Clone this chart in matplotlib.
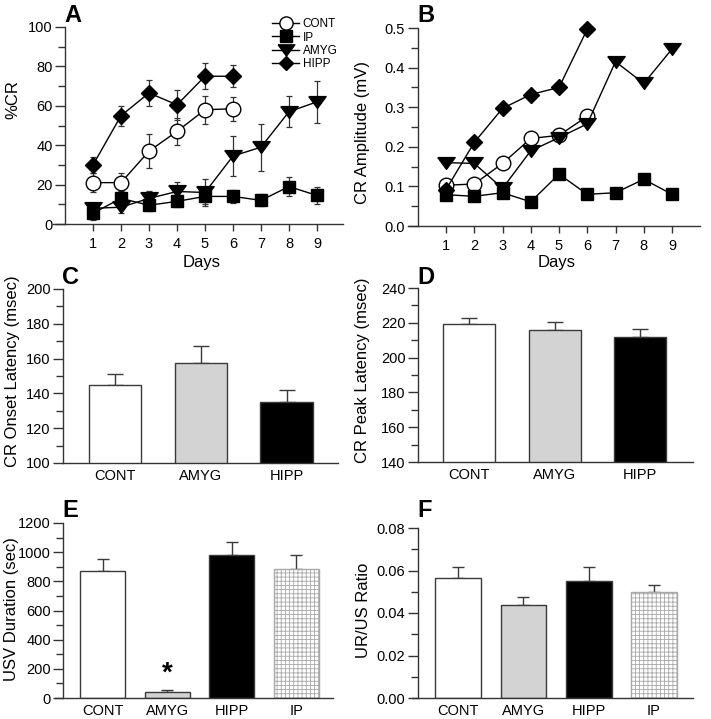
import numpy as np
import matplotlib
matplotlib.use("Agg")
import matplotlib.pyplot as plt
from matplotlib.ticker import MultipleLocator, FormatStrFormatter

plt.rcParams['font.family'] = ['Liberation Sans', 'DejaVu Sans']
plt.rcParams['hatch.linewidth'] = 0.6

# ---- datos ----
days = [1, 2, 3, 4, 5, 6, 7, 8, 9]

# panel A: %CR
cr_cont = [21, 21, 37, 47, 58, 58.5]
cr_cont_err = [5, 5, 8.5, 7, 7, 6]
cr_ip = [5.5, 13, 9.5, 11.5, 14, 14, 12, 19, 14.5]
cr_ip_err = [3.5, 3.5, 3, 3, 4, 3.5, 3, 5, 4.5]
cr_amyg = [8, 8.5, 13, 16.5, 16, 34.5, 39, 57, 62]
cr_amyg_err = [2.5, 3, 4, 5, 7, 10, 12, 8, 10.5]
cr_hipp = [30, 55, 66.5, 60.5, 75, 75]
cr_hipp_err = [4, 5, 6.5, 7.5, 6.5, 5.5]

# panel B: amplitud
amp_cont = [0.103, 0.106, 0.158, 0.221, 0.229, 0.277]
amp_ip = [0.079, 0.075, 0.084, 0.061, 0.131, 0.080, 0.084, 0.118, 0.080]
amp_amyg = [0.160, 0.158, 0.095, 0.190, 0.223, 0.258, 0.415, 0.360, 0.447]
amp_hipp = [0.092, 0.211, 0.297, 0.332, 0.350, 0.497]

grupos3 = ['CONT', 'AMYG', 'HIPP']
grupos4 = ['CONT', 'AMYG', 'HIPP', 'IP']

onset = [145, 157.5, 135]
onset_err = [6, 9.5, 7]
peak = [219.5, 216, 212]
peak_err = [3.5, 4.5, 4.5]
usv = [870, 40, 980, 885]
usv_err = [85, 15, 90, 95]
ratio = [0.0565, 0.044, 0.055, 0.050]
ratio_err = [0.005, 0.0037, 0.0067, 0.0032]

colores_barra = ['white', '#d3d3d3', 'black', 'white']

W, H = 711, 719
fig = plt.figure(figsize=(W / 100, H / 100), dpi=100)

AX_COL = '#333333'
# triangulo ancho (mas ancho que alto)
TRI = [(-1, 0.68), (1, 0.68), (0, -0.68), (-1, 0.68)]


def ejes_px(x0, x1, ytop, ybot):
    return fig.add_axes([x0 / W, 1 - ybot / H, (x1 - x0) / W, (ybot - ytop) / H])


def texto_px(x, y, s, **kw):
    fig.text(x / W, 1 - y / H, s, **kw)


def estilo(ax, yleft):
    for s in ['top', 'right']:
        ax.spines[s].set_visible(False)
    ax.spines['left'].set_position(('data', yleft))
    for s in ['left', 'bottom']:
        ax.spines[s].set_color(AX_COL)
        ax.spines[s].set_linewidth(1.0)
    ax.tick_params(axis='y', which='major', direction='out', length=7, width=1,
                   color=AX_COL, labelsize=10.5, pad=2)
    ax.tick_params(axis='y', which='minor', direction='out', length=5, width=1,
                   color=AX_COL)
    ax.patch.set_alpha(0)


def lineas(ax, xlim, ylim, series, ymaj, yfmt):
    for x, y, err, mk, fc, ms in series:
        if err is not None:
            ax.errorbar(x, y, yerr=err, fmt='none', ecolor='#333333',
                        elinewidth=0.9, capsize=2.5, capthick=0.9, zorder=2)
        ax.plot(x, y, marker=mk, color='black', mfc=fc, mec='black', ms=ms,
                lw=1.0, zorder=3, clip_on=False)
    ax.set_xlim(*xlim)
    ax.set_ylim(*ylim)
    estilo(ax, 0)
    ax.set_xticks(days)
    ax.tick_params(axis='x', direction='out', length=5, width=1, color=AX_COL,
                   labelsize=10.5, pad=4)
    ax.yaxis.set_major_locator(MultipleLocator(ymaj))
    ax.yaxis.set_minor_locator(MultipleLocator(ymaj / 2))
    ax.yaxis.set_major_formatter(FormatStrFormatter(yfmt))


def barras(ax, labels, vals, errs, xlim, yaxis_x, ylim, ymaj, yfmt, width, capsize, xtick_len):
    x = np.arange(len(labels))
    for i in range(len(labels)):
        ip = labels[i] == 'IP'
        ax.bar(x[i], vals[i], width=width, color=colores_barra[i],
               edgecolor='#a8a8a8' if ip else '#3a3a3a',
               hatch='++++' if ip else None, linewidth=1.0, zorder=2)
    ax.errorbar(x, vals, yerr=[np.zeros(len(vals)), errs], fmt='none',
                ecolor='#3a3a3a', elinewidth=1.0, capsize=capsize, capthick=1.0,
                zorder=1)
    ax.set_xlim(*xlim)
    ax.set_ylim(*ylim)
    estilo(ax, yaxis_x)
    ax.set_xticks(x)
    ax.set_xticklabels(labels)
    ax.tick_params(axis='x', direction='in', length=xtick_len, width=1,
                   color=AX_COL, labelsize=10.5, pad=4)
    ax.yaxis.set_major_locator(MultipleLocator(ymaj))
    ax.yaxis.set_minor_locator(MultipleLocator(ymaj / 2))
    ax.yaxis.set_major_formatter(FormatStrFormatter(yfmt))


# A
axA = ejes_px(53, 343, 27, 224)
lineas(axA, (-0.43, 9.93), (0, 100), [
    (days[:6], cr_cont, cr_cont_err, 'o', 'white', 10.5),
    (days, cr_ip, cr_ip_err, 's', 'black', 9),
    (days, cr_amyg, cr_amyg_err, TRI, 'black', 12.5),
    (days[:6], cr_hipp, cr_hipp_err, 'D', 'black', 8),
], 20, '%d')
h = [plt.Line2D([], [], color='black', marker=m, mfc=f, mec='black', ms=s, lw=1.0)
     for m, f, s in [('o', 'white', 9.5), ('s', 'black', 8.5), (TRI, 'black', 12), ('D', 'black', 7.5)]]
axA.legend(h, ['CONT', 'IP', 'AMYG', 'HIPP'], loc='upper left',
           bbox_to_anchor=(0.735, 1.075), frameon=False, fontsize=8.5,
           handlelength=2.3, handletextpad=0.3, labelspacing=0.12, borderpad=0)

# B
axB = ejes_px(408, 700, 28, 226)
lineas(axB, (-0.345, 9.99), (0, 0.5), [
    (days[:6], amp_cont, None, 'o', 'white', 10.5),
    (days, amp_ip, None, 's', 'black', 9),
    (days, amp_amyg, None, TRI, 'black', 12.5),
    (days[:6], amp_hipp, None, 'D', 'black', 8),
], 0.1, '%.1f')

# C
axC = ejes_px(63, 338, 289, 463)
barras(axC, grupos3, onset, onset_err, (-0.606, 2.6), -0.606, (100, 200), 20, '%d',
       0.61, 5.5, 4)

# D
axD = ejes_px(418, 693, 288, 462)
barras(axD, grupos3, peak, peak_err, (-0.6, 2.62), -0.6, (140, 240), 20, '%d',
       0.61, 5.5, 4)

# E
axE = ejes_px(55, 333, 523, 698)
barras(axE, grupos4, usv, usv_err, (-0.74, 3.57), -0.61, (0, 1200), 200, '%d',
       0.70, 4.5, 0)
axE.text(1, 170, '*', ha='center', va='center', fontsize=20, fontweight='bold')

# F
axF = ejes_px(412, 693, 528, 698)
barras(axF, grupos4, ratio, ratio_err, (-0.71, 3.6), -0.62, (0, 0.08), 0.02, '%.2f',
       0.70, 4.5, 0)

# etiquetas de ejes
for s, x, y in [('%CR', 13, 100), ('CR Amplitude (mV)', 362, 133),
                ('CR Onset Latency (msec)', 13, 371), ('CR Peak Latency (msec)', 363, 370),
                ('USV Duration (sec)', 12, 609), ('UR/US Ratio', 364, 610)]:
    texto_px(x, y, s, rotation=90, ha='center', va='center', fontsize=12)
texto_px(202, 262, 'Days', ha='center', va='center', fontsize=12)
texto_px(557, 262, 'Days', ha='center', va='center', fontsize=12)

for letra, x, y in [('A', 64, 22), ('B', 417, 22), ('C', 62, 284), ('D', 417, 284),
                    ('E', 62, 517), ('F', 417, 517)]:
    texto_px(x, y, letra, fontsize=17, fontweight='bold', ha='left', va='baseline')

fig.savefig('out.png', dpi=100)
